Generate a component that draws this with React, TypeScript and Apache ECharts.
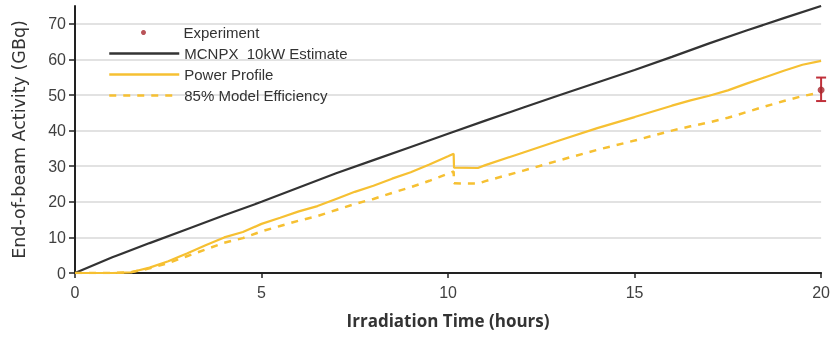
import React, { useEffect, useRef } from 'react';
import * as echarts from 'echarts';

const mcnpxHours = [0, 1, 2, 3, 4, 5, 6, 7, 8, 9, 10, 11, 12, 13, 14, 15, 16, 17, 18, 19, 20];
const mcnpxValues = [0, 4.4, 8.4, 12.3, 16.2, 20.0, 24.0, 28.0, 31.7, 35.4, 39.1, 42.8, 46.4, 50.0, 53.5, 57.0, 60.7, 64.5, 68.1, 71.6, 75.0];

const powerHours = [0, 1, 1.5, 2, 2.5, 3, 3.5, 4, 4.5, 5, 5.5, 6, 6.5, 7, 7.5, 8, 8.5, 9, 9.5, 10, 10.15, 10.16, 10.8, 11, 12, 13, 14, 15, 16, 16.5, 17, 17.5, 18, 18.5, 19, 19.5, 20];
const powerValues = [0, 0, 0.2, 1.5, 3.3, 5.5, 7.8, 10, 11.5, 13.8, 15.5, 17.3, 18.8, 20.8, 22.8, 24.5, 26.5, 28.3, 30.5, 32.8, 33.5, 29.6, 29.5, 30.3, 33.8, 37.3, 40.7, 43.8, 47, 48.5, 49.8, 51.3, 53.2, 55, 56.8, 58.5, 59.6];
const efficiencyValues = [0, 0, 0.2, 1.3, 2.8, 4.7, 6.6, 8.5, 9.8, 11.7, 13.2, 14.7, 16, 17.7, 19.4, 20.8, 22.5, 24.1, 25.9, 27.9, 28.5, 25.2, 25.1, 25.8, 28.7, 31.7, 34.6, 37.2, 40, 41.2, 42.3, 43.6, 45.2, 46.8, 48.3, 49.7, 50.7];

const experimentHours = [20];
const experimentValues = [51.4];
const experimentLow = [48.3];
const experimentHigh = [54.9];

const seriesNames = ['Experiment', 'MCNPX  10kW Estimate', 'Power Profile', '85% Model Efficiency'];

const RED = '#c0303a';
const BLACK = '#333333';
const YELLOW = '#f6c032';

export default function App() {
  const ref = useRef<HTMLDivElement>(null);
  useEffect(() => {
    if (!ref.current) return;
    const chart = echarts.init(ref.current, null, { renderer: 'svg' });
    const zip = (xs: number[], ys: number[]) => xs.map((x, i) => [x, ys[i]]);
    const legendText = { fontFamily: 'Liberation Sans', fontSize: 15, color: '#333' };
    chart.setOption({
      animation: false,
      grid: { left: 75, right: 10, top: 6, bottom: 70, containLabel: false },
      legend: [
        {
          data: [{ name: seriesNames[0], icon: 'circle' }],
          orient: 'vertical',
          left: 136,
          top: 20,
          itemWidth: 70,
          itemHeight: 5,
          textStyle: legendText,
          selectedMode: false,
        },
        {
          data: [seriesNames[1], seriesNames[2], seriesNames[3]],
          orient: 'vertical',
          left: 103,
          top: 41,
          itemWidth: 70,
          itemHeight: 14,
          itemGap: 6,
          itemStyle: { opacity: 0, borderWidth: 0 },
          lineStyle: { width: 2.5 },
          textStyle: legendText,
          selectedMode: false,
        },
      ],
      xAxis: {
        type: 'value',
        min: 0,
        max: 20,
        interval: 5,
        name: 'Irradiation Time (hours)',
        nameLocation: 'middle',
        nameGap: 39,
        nameTextStyle: { fontFamily: 'Open Sans', fontWeight: 'bold', fontSize: 17, color: '#333' },
        axisLine: { lineStyle: { color: '#222', width: 2 } },
        axisTick: { show: true, length: 5, lineStyle: { color: '#222', width: 1.5 } },
        axisLabel: { fontFamily: 'Liberation Sans', fontSize: 16, color: '#404040', margin: 11 },
        splitLine: { show: false },
      },
      yAxis: {
        type: 'value',
        min: 0,
        max: 75,
        interval: 10,
        name: 'End-of-beam Activity (GBq)',
        nameLocation: 'middle',
        nameGap: 47,
        nameTextStyle: { fontFamily: 'DejaVu Sans', fontSize: 17.5, color: '#333' },
        axisLine: { show: true, lineStyle: { color: '#222', width: 2 } },
        axisTick: { show: true, length: 6, lineStyle: { color: '#222', width: 1.5 } },
        axisLabel: { fontFamily: 'Liberation Sans', fontSize: 16, color: '#404040', margin: 9, showMaxLabel: false },
        splitLine: { show: true, showMaxLine: false, lineStyle: { color: '#d9d9d9', width: 1.5 } },
      },
      series: [
        {
          name: seriesNames[1],
          type: 'line',
          data: zip(mcnpxHours, mcnpxValues),
          showSymbol: false,
          symbol: 'none',
          lineStyle: { color: BLACK, width: 2.2 },
          itemStyle: { color: BLACK },
          z: 3,
        },
        {
          name: seriesNames[2],
          type: 'line',
          data: zip(powerHours, powerValues),
          showSymbol: false,
          symbol: 'none',
          lineStyle: { color: YELLOW, width: 2.2 },
          itemStyle: { color: YELLOW },
          z: 3,
        },
        {
          name: seriesNames[3],
          type: 'line',
          data: zip(powerHours, efficiencyValues),
          showSymbol: false,
          symbol: 'none',
          lineStyle: { color: YELLOW, width: 2.5, type: [7, 7] },
          itemStyle: { color: YELLOW },
          z: 3,
        },
        {
          name: 'Experiment error',
          type: 'custom',
          clip: false,
          data: experimentHours.map((x, i) => [x, experimentLow[i], experimentHigh[i]]),
          encode: { x: 0, y: [1, 2] },
          renderItem: (_params: any, api: any) => {
            const x = api.value(0);
            const lo = api.coord([x, api.value(1)]);
            const hi = api.coord([x, api.value(2)]);
            const cap = 5;
            const style = { stroke: RED, lineWidth: 2 };
            return {
              type: 'group',
              children: [
                { type: 'line', shape: { x1: lo[0], y1: lo[1], x2: hi[0], y2: hi[1] }, style },
                { type: 'line', shape: { x1: lo[0] - cap, y1: lo[1], x2: lo[0] + cap, y2: lo[1] }, style },
                { type: 'line', shape: { x1: hi[0] - cap, y1: hi[1], x2: hi[0] + cap, y2: hi[1] }, style },
              ],
            };
          },
          z: 4,
        },
        {
          name: seriesNames[0],
          type: 'scatter',
          data: zip(experimentHours, experimentValues),
          symbol: 'circle',
          symbolSize: 7,
          itemStyle: { color: '#a8282e' },
          clip: false,
          z: 5,
        },
      ],
    });
    return () => chart.dispose();
  }, []);
  return <div ref={ref} style={{ position: 'fixed', left: 0, top: 0, width: 833, height: 343 }} />;
}
